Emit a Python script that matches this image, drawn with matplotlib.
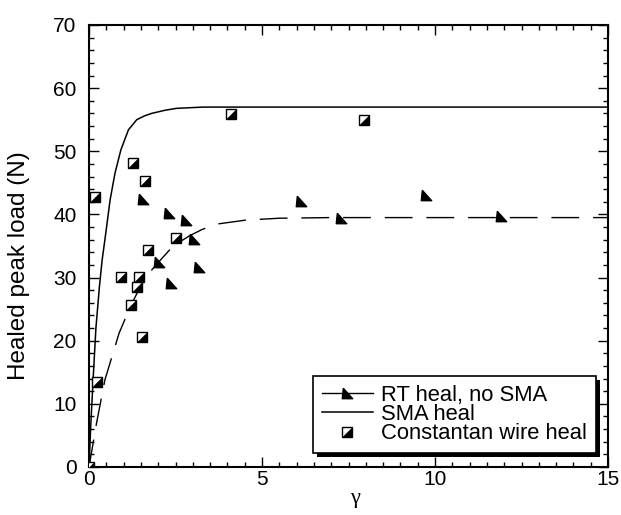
import matplotlib
matplotlib.use("Agg")
import matplotlib.pyplot as plt
import matplotlib.patheffects as pe
from matplotlib.lines import Line2D

plt.rcParams['font.family'] = ['Liberation Sans', 'DejaVu Sans']
plt.rcParams['lines.scale_dashes'] = False

# Data
rt_x = [0.0, 1.55, 2.31, 2.80, 3.03, 2.02, 3.18, 2.37, 6.14, 7.27, 9.73, 11.9]
rt_y = [0.0, 42.4, 40.2, 39.1, 36.1, 32.5, 31.7, 29.1, 42.2, 39.5, 43.1, 39.7]

con_x = [0.0, 0.22, 0.17, 1.26, 1.63, 4.09, 7.95, 2.52, 1.71, 0.93, 1.45, 1.40, 1.21, 1.54]
con_y = [0.0, 13.5, 42.7, 48.2, 45.3, 55.9, 55.0, 36.3, 34.3, 30.1, 30.1, 28.5, 25.6, 20.6]

sma_x = [0.0, 0.05, 0.12, 0.2, 0.3, 0.38, 0.46, 0.61, 0.75, 0.92, 1.14, 1.38, 1.6, 1.81, 2.2, 2.53, 3.3, 15.0]
sma_y = [0.0, 6.5, 14.0, 22.0, 28.5, 32.8, 36.0, 42.3, 46.5, 50.2, 53.4, 55.0, 55.6, 56.0, 56.5, 56.8, 57.0, 57.0]

rtfit_x = [0.0, 0.22, 0.46, 0.87, 1.21, 1.62, 2.02, 2.43, 2.9, 3.26, 3.73, 4.53, 5.5, 7.0, 15.0]
rtfit_y = [0.0, 7.0, 13.8, 21.2, 25.6, 30.0, 32.5, 35.0, 36.6, 37.6, 38.5, 39.1, 39.4, 39.5, 39.5]

xticks = [0, 5, 10, 15]
yticks = [0, 10, 20, 30, 40, 50, 60, 70]

fig = plt.figure(figsize=(6.21, 5.15), dpi=100)
ax = fig.add_axes([89/621, 1-467/515, (608-89)/621, (467-25)/515])

tri = [(-0.8, 1), (1, -1), (-1, -1), (-0.8, 1)]
lowtri = [(1, 1), (1, -1), (-1, -1), (1, 1)]

# RT heal fit (dashed) and points
ax.plot(rtfit_x, rtfit_y, color='black', lw=1.0, dashes=(20, 10), zorder=2)
ax.plot(rt_x, rt_y, ls='none', marker=tri, ms=7.5, color='black', zorder=4)

# SMA heal
ax.plot(sma_x, sma_y, color='black', lw=1.1, zorder=2)

# Constantan wire: half filled squares
ax.plot(con_x, con_y, ls='none', marker='s', ms=7, mfc='white', mec='black', mew=1.0, zorder=5)
ax.plot(con_x, con_y, ls='none', marker=lowtri, ms=7, mfc='black', mec='black', mew=0.3, zorder=6)

ax.set_xlim(0, 15)
ax.set_ylim(0, 70)
ax.set_xticks(xticks)
ax.set_yticks(yticks)
ax.set_xticks([i * 0.5 for i in range(31)], minor=True)
ax.set_yticks([i * 2 for i in range(36)], minor=True)
ax.tick_params(which='both', direction='in', top=True, right=True, width=1.0)
ax.tick_params(which='major', length=7, labelsize=15)
ax.tick_params(which='minor', length=3.5)
ax.tick_params(axis='y', which='major', pad=9)
ax.tick_params(axis='x', which='major', pad=2)
for s in ax.spines.values():
    s.set_linewidth(1.5)

# Axis labels placed as figure text
fig.text(355/621, 1-499/515, 'γ', fontsize=16, ha='center', va='center',
         family=['Liberation Serif', 'DejaVu Serif'])
fig.text(19/621, 1-266/515, 'Healed peak load (N)', fontsize=17.5, rotation=90,
         ha='center', va='center')

# Legend with custom handles
h_rt = Line2D([0, 1], [0, 0], color='black', lw=1.0, marker=tri, ms=7.5, markevery=[1])
h_sma = Line2D([], [], color='black', lw=1.1)
h_con = Line2D([], [], ls='none', marker='s', ms=7, mfc='white', mec='black')
h_con2 = Line2D([], [], ls='none', marker=lowtri, ms=7, mfc='black', mec='black', mew=0.3)
leg = ax.legend([h_rt, h_sma, (h_con, h_con2)],
                ['RT heal, no SMA', 'SMA heal', 'Constantan wire heal'],
                loc='lower right', bbox_to_anchor=((596-89)/519, (467-453)/442),
                fontsize=15.8, frameon=True, fancybox=False, shadow=False,
                framealpha=1.0, labelspacing=-0.08, handlelength=2.3,
                handletextpad=0.4, borderpad=0.4, borderaxespad=0, numpoints=1)
fr = leg.get_frame()
fr.set_edgecolor('black')
fr.set_facecolor('white')
fr.set_linewidth(1.2)
fr.set_path_effects([pe.SimplePatchShadow(offset=(3, -3), shadow_rgbFace='black', alpha=1.0), pe.Normal()])

fig.savefig('out.png', dpi=100)
